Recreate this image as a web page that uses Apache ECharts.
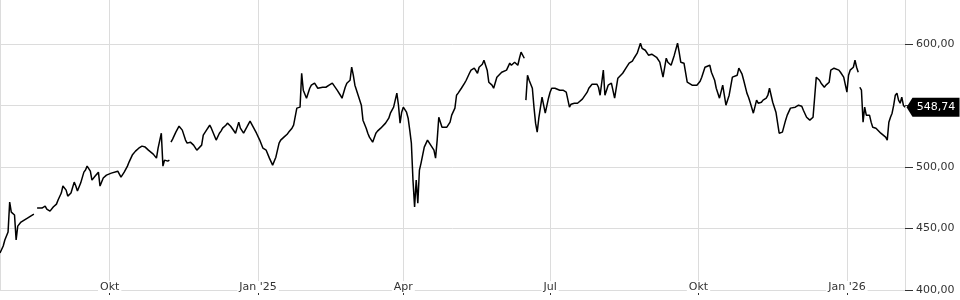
<!DOCTYPE html>
<html>
<head>
<meta charset="utf-8">
<script src="https://cdn.jsdelivr.net/npm/echarts@6/dist/echarts.min.js"></script>
<style>
html,body{margin:0;padding:0;background:#fff;}
#chart{width:960px;height:300px;}
</style>
</head>
<body>
<div id="chart"></div>
<script>
// Dates of the price samples (null in prices = gap in the line)
var dates = [
'2024-07-25','2024-07-27','2024-07-28','2024-07-30','2024-07-31','2024-08-01','2024-08-02','2024-08-03','2024-08-04','2024-08-05',
'2024-08-07','2024-08-09','2024-08-11','2024-08-13','2024-08-15','2024-08-17','2024-08-17','2024-08-18','2024-08-20','2024-08-22',
'2024-08-23','2024-08-25','2024-08-27','2024-08-29','2024-08-30','2024-09-01','2024-09-02','2024-09-04','2024-09-05','2024-09-07',
'2024-09-09','2024-09-10','2024-09-11','2024-09-13','2024-09-15','2024-09-16','2024-09-17','2024-09-19','2024-09-20','2024-09-22',
'2024-09-24','2024-09-25','2024-09-27','2024-09-29','2024-10-02','2024-10-03','2024-10-06','2024-10-08','2024-10-10','2024-10-12',
'2024-10-13','2024-10-15','2024-10-17','2024-10-19','2024-10-21','2024-10-23','2024-10-25','2024-10-26','2024-10-28','2024-10-30',
'2024-10-31','2024-11-02','2024-11-03','2024-11-04','2024-11-06','2024-11-07','2024-11-08','2024-11-08','2024-11-09','2024-11-11',
'2024-11-13','2024-11-14','2024-11-15','2024-11-17','2024-11-18','2024-11-20','2024-11-22','2024-11-24','2024-11-25','2024-11-27',
'2024-11-28','2024-11-30','2024-12-02','2024-12-03','2024-12-04','2024-12-06','2024-12-08','2024-12-09','2024-12-10','2024-12-12',
'2024-12-13','2024-12-15','2024-12-16','2024-12-18','2024-12-20','2024-12-21','2024-12-23','2024-12-25','2024-12-26','2024-12-27',
'2024-12-29','2024-12-31','2025-01-02','2025-01-04','2025-01-06','2025-01-08','2025-01-09','2025-01-10','2025-01-12','2025-01-14',
'2025-01-15','2025-01-17','2025-01-19','2025-01-20','2025-01-22','2025-01-23','2025-01-25','2025-01-27','2025-01-28','2025-01-29',
'2025-01-31','2025-02-02','2025-02-03','2025-02-05','2025-02-07','2025-02-08','2025-02-10','2025-02-12','2025-02-14','2025-02-16',
'2025-02-17','2025-02-19','2025-02-21','2025-02-22','2025-02-24','2025-02-25','2025-02-27','2025-02-28','2025-03-01','2025-03-02',
'2025-03-04','2025-03-06','2025-03-07','2025-03-09','2025-03-10','2025-03-11','2025-03-13','2025-03-15','2025-03-16','2025-03-18',
'2025-03-19','2025-03-21','2025-03-23','2025-03-24','2025-03-26','2025-03-27','2025-03-28','2025-03-29','2025-03-30','2025-03-31',
'2025-04-01','2025-04-03','2025-04-04','2025-04-05','2025-04-06','2025-04-07','2025-04-08','2025-04-09','2025-04-10','2025-04-11',
'2025-04-12','2025-04-13','2025-04-14','2025-04-16','2025-04-18','2025-04-19','2025-04-20','2025-04-21','2025-04-22','2025-04-23',
'2025-04-25','2025-04-26','2025-04-28','2025-04-30','2025-05-01','2025-05-03','2025-05-04','2025-05-05','2025-05-06','2025-05-07',
'2025-05-09','2025-05-10','2025-05-12','2025-05-13','2025-05-15','2025-05-17','2025-05-18','2025-05-20','2025-05-21','2025-05-23',
'2025-05-24','2025-05-26','2025-05-27','2025-05-29','2025-05-30','2025-06-01','2025-06-02','2025-06-04','2025-06-06','2025-06-07',
'2025-06-09','2025-06-10','2025-06-11','2025-06-12','2025-06-13','2025-06-15','2025-06-16','2025-06-16','2025-06-17','2025-06-18',
'2025-06-19','2025-06-20','2025-06-21','2025-06-22','2025-06-23','2025-06-24','2025-06-26','2025-06-27','2025-06-28','2025-06-30',
'2025-07-01','2025-07-02','2025-07-04','2025-07-05','2025-07-07','2025-07-09','2025-07-11','2025-07-13','2025-07-14','2025-07-16',
'2025-07-18','2025-07-19','2025-07-21','2025-07-22','2025-07-24','2025-07-25','2025-07-27','2025-07-28','2025-07-30','2025-07-31',
'2025-08-01','2025-08-03','2025-08-04','2025-08-06','2025-08-07','2025-08-08','2025-08-10','2025-08-12','2025-08-13','2025-08-15',
'2025-08-17','2025-08-18','2025-08-19','2025-08-21','2025-08-22','2025-08-24','2025-08-26','2025-08-27','2025-08-29','2025-08-31',
'2025-09-02','2025-09-03','2025-09-05','2025-09-06','2025-09-07','2025-09-09','2025-09-11','2025-09-12','2025-09-14','2025-09-16',
'2025-09-18','2025-09-19','2025-09-20','2025-09-22','2025-09-24','2025-09-25','2025-09-27','2025-09-28','2025-09-30','2025-10-02',
'2025-10-03','2025-10-05','2025-10-06','2025-10-08','2025-10-09','2025-10-11','2025-10-12','2025-10-14','2025-10-16','2025-10-17',
'2025-10-18','2025-10-20','2025-10-22','2025-10-23','2025-10-25','2025-10-26','2025-10-28','2025-10-29','2025-10-31','2025-11-01',
'2025-11-02','2025-11-04','2025-11-06','2025-11-07','2025-11-09','2025-11-10','2025-11-12','2025-11-13','2025-11-14','2025-11-16',
'2025-11-18','2025-11-20','2025-11-21','2025-11-22','2025-11-24','2025-11-25','2025-11-27','2025-11-28','2025-11-30','2025-12-02',
'2025-12-03','2025-12-04','2025-12-05','2025-12-07','2025-12-09','2025-12-10','2025-12-11','2025-12-12','2025-12-13','2025-12-15',
'2025-12-16','2025-12-18','2025-12-19','2025-12-21','2025-12-22','2025-12-24','2025-12-25','2025-12-27','2025-12-28','2025-12-30',
'2026-01-01','2026-01-02','2026-01-03','2026-01-05','2026-01-06','2026-01-07','2026-01-08','2026-01-09','2026-01-09','2026-01-10',
'2026-01-11','2026-01-12','2026-01-13','2026-01-15','2026-01-16','2026-01-17','2026-01-19','2026-01-20','2026-01-22','2026-01-23',
'2026-01-25','2026-01-26','2026-01-27','2026-01-28','2026-01-29','2026-01-30','2026-01-31','2026-02-01','2026-02-02','2026-02-03',
'2026-02-04','2026-02-05','2026-02-06'
];
var prices = [
430.1,435.8,440.7,447.2,471.5,463.4,465.0,461.0,440.7,452.0,
455.3,456.9,458.5,460.2,461.8,null,466.7,468.3,466.7,468.3,
465.9,464.2,467.5,469.9,473.2,478.9,484.6,481.3,476.4,478.9,
487.8,484.6,480.5,487.0,495.9,497.6,500.8,496.7,489.4,492.7,
495.9,484.6,491.1,493.5,495.1,495.9,496.7,491.9,495.9,500.8,
504.1,509.8,513.0,515.4,517.1,516.3,513.8,513.0,510.6,507.3,
515.4,527.6,500.8,505.7,504.9,505.7,null,520.3,522.8,528.5,
533.3,531.7,530.1,522.0,519.5,520.3,517.9,513.8,512.2,517.9,
526.0,530.1,534.1,531.7,530.1,522.0,527.6,529.3,531.7,534.1,
535.8,533.3,531.7,527.6,536.6,531.7,527.6,532.5,535.0,537.4,
532.5,527.6,522.0,515.4,513.8,507.3,508.1,501.6,508.1,519.5,
522.0,524.4,526.8,528.5,531.7,534.1,548.0,548.8,576.4,562.6,
556.1,564.2,566.7,568.3,564.2,562.6,565.0,565.0,566.7,568.3,
569.1,562.6,558.5,556.1,565.0,568.3,570.7,581.3,574.8,566.7,
558.5,550.4,538.2,531.7,527.6,524.4,520.3,527.6,529.3,531.7,
533.3,535.8,539.8,543.9,548.8,548.8,560.2,550.4,535.8,544.7,
548.8,544.7,539.8,530.1,519.5,489.4,467.5,489.4,470.7,497.6,
503.3,509.8,516.3,522.0,517.9,519.5,513.8,507.3,522.0,540.6,
532.5,534.1,532.5,536.6,542.3,548.0,558.5,560.2,561.0,564.2,
568.3,570.7,576.4,578.9,580.5,576.4,581.3,583.7,587.0,578.9,
569.1,566.7,564.2,573.2,574.8,577.2,578.0,578.9,584.6,582.9,
585.4,584.6,582.9,588.6,593.5,588.6,null,554.5,574.8,570.7,
569.1,564.2,548.8,535.8,528.5,539.8,556.9,550.4,543.9,556.1,
561.0,564.2,564.2,565.0,562.6,562.6,561.0,548.8,551.2,552.0,
552.0,552.8,555.3,556.9,561.0,564.2,567.5,569.1,567.5,565.0,
558.5,578.9,558.5,566.7,566.7,568.3,556.1,572.4,574.0,576.4,
580.5,582.1,584.6,586.2,588.6,592.7,600.8,596.7,595.1,591.1,
591.9,593.5,589.4,588.6,585.4,573.2,588.6,585.4,582.9,591.1,
600.8,593.5,585.4,584.6,569.1,567.5,566.7,565.9,566.7,569.9,
573.2,581.3,582.1,582.9,577.2,570.7,564.2,556.1,566.7,558.5,
550.4,558.5,573.2,573.2,574.8,580.5,575.6,570.7,560.2,556.9,
552.8,543.9,554.5,552.0,552.8,554.5,556.1,558.5,564.2,552.8,
544.7,527.6,526.8,528.5,538.2,542.3,548.0,548.0,548.8,550.4,
552.0,549.6,546.3,540.6,538.2,539.0,540.6,556.9,573.2,570.7,
568.3,565.0,566.7,569.1,578.9,580.5,580.5,578.9,577.2,573.2,
561.0,574.8,578.9,581.3,587.0,581.3,577.2,null,565.0,562.6,
536.6,548.8,542.3,542.3,536.6,532.5,531.7,530.1,527.6,526.0,
524.4,522.0,536.6,540.6,543.9,550.4,558.5,560.2,554.5,552.0,
556.9,550.4,548.74
];
var monthLabels = ['Jan','Feb','Mär','Apr','Mai','Jun','Jul','Aug','Sep','Okt','Nov','Dez'];
var yTicks = [400, 450, 500, 550, 600];

function fmtNum(v){ return v.toFixed(2).replace('.', ','); }

var seriesData = dates.map(function(d, i){ return [d, prices[i]]; });
var lastDate = dates[dates.length - 1];
var lastPrice = prices[prices.length - 1];

var chart = echarts.init(document.getElementById('chart'), null, {renderer: 'canvas'});
chart.setOption({
  animation: false,
  backgroundColor: '#fff',
  textStyle: {fontFamily: 'DejaVu Sans'},
  grid: {left: 0, right: 55, top: 0, bottom: 10, containLabel: false},
  xAxis: {
    type: 'time',
    min: dates[0],
    max: lastDate,
    splitNumber: 6,
    axisLine: {show: true, lineStyle: {color: '#dcdcdc', width: 1}},
    axisTick: {show: true, length: 5, lineStyle: {color: '#333'}},
    axisLabel: {
      inside: true,
      margin: -3,
      color: '#333',
      fontSize: 11,
      fontFamily: 'DejaVu Sans',
      hideOverlap: false,
      backgroundColor: '#fff',
      padding: [1, 2, 0, 2],
      formatter: function(val){
        var d = new Date(val);
        var m = d.getMonth();
        if (m === 0) return 'Jan \'' + String(d.getFullYear()).slice(2);
        return monthLabels[m];
      }
    },
    splitLine: {show: true, lineStyle: {color: '#dcdcdc', width: 1}}
  },
  yAxis: {
    type: 'value',
    position: 'right',
    min: yTicks[0],
    max: 636,
    interval: 50,
    axisLine: {show: false},
    axisTick: {show: true, length: 8, lineStyle: {color: '#333'}},
    axisLabel: {
      margin: 11, color: '#333', fontSize: 11, fontFamily: 'DejaVu Sans',
      showMaxLabel: false,
      formatter: function(v){ return yTicks.indexOf(v) >= 0 ? fmtNum(v) : ''; }
    },
    splitLine: {show: true, showMaxLine: false, lineStyle: {color: '#dcdcdc', width: 1}}
  },
  series: [{
    type: 'line',
    data: seriesData,
    showSymbol: false,
    connectNulls: false,
    clip: false,
    lineStyle: {color: '#000', width: 1.5},
    itemStyle: {color: '#000'},
    markPoint: {
      silent: true,
      symbol: 'path://M0,9.5 L6,0 L53,0 L53,19 L6,19 Z',
      symbolSize: [53, 19],
      symbolKeepAspect: false,
      symbolOffset: [28, 0],
      itemStyle: {color: '#000'},
      label: {show: true, position: 'inside', offset: [3, 0], color: '#fff', fontSize: 11, fontFamily: 'DejaVu Sans',
        formatter: function(p){ return fmtNum(p.value); }},
      data: [{coord: [lastDate, lastPrice], value: lastPrice}]
    }
  }]
});
</script>
</body>
</html>
